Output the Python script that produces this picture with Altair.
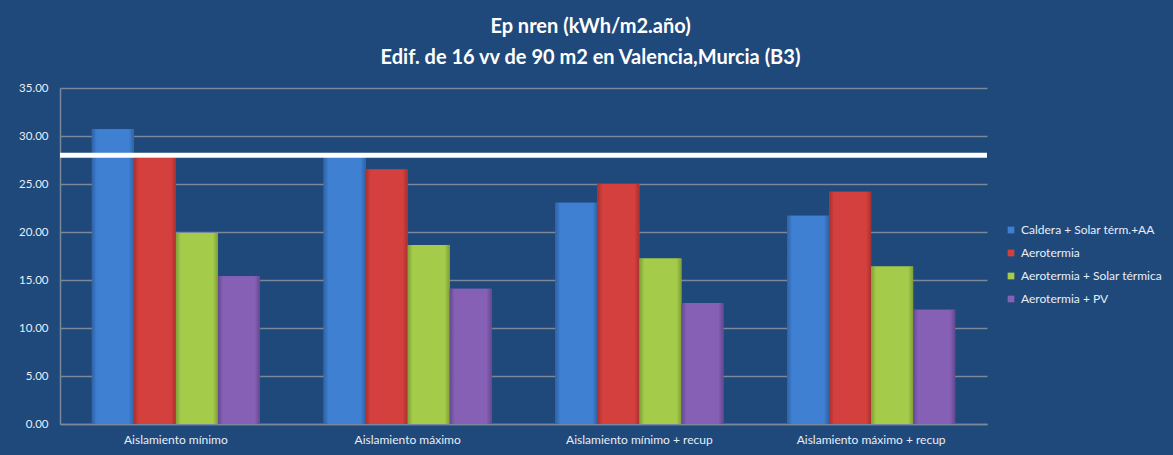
import altair as alt
import pandas as pd

categories = ["Aislamiento mínimo", "Aislamiento máximo", "Aislamiento mínimo + recup", "Aislamiento máximo + recup"]
series = ["Caldera + Solar térm.+AA", "Aerotermia", "Aerotermia + Solar térmica", "Aerotermia + PV"]
caldera = [30.7, 27.8, 23.05, 21.7]
aerotermia = [27.7, 26.5, 25.0, 24.2]
aero_solar = [19.9, 18.65, 17.25, 16.4]
aero_pv = [15.4, 14.1, 12.6, 11.9]
limit_value = 28.0
colors = ["#3f80d2", "#d4403d", "#a4cc4a", "#8560b4"]
edge_colors = ["#2f62a6", "#a8302e", "#7f9f36", "#654791"]

rows = []
for s, vals in zip(series, [caldera, aerotermia, aero_solar, aero_pv]):
    for c, v in zip(categories, vals):
        rows.append({"cat": c, "serie": s, "valor": v})
df = pd.DataFrame(rows)

bg = "#1f487b"
grid = "#7a8899"
txt = "#e8eef6"

x_enc = alt.X("cat:N", sort=categories, title=None,
              scale=alt.Scale(paddingInner=0.275, paddingOuter=0.1375),
              axis=alt.Axis(labelAngle=0, labelColor=txt, labelFontSize=12, labelFont="Lato",
                            labelPadding=10, ticks=False, domainColor=grid, domainWidth=1.5))
xo_enc = alt.XOffset("serie:N", sort=series, scale=alt.Scale(domain=series))
y_enc = alt.Y("valor:Q", title=None,
              scale=alt.Scale(domain=[0, 35], nice=False),
              axis=alt.Axis(values=[0, 5, 10, 15, 20, 25, 30, 35], format=".2f", labelColor=txt,
                            labelFontSize=11.5, labelFont="Lato", labelPadding=12, ticks=False,
                            domainColor=grid, domainWidth=1.5, gridColor=grid, gridWidth=1.5))

base = alt.Chart(df).mark_bar().encode(
    x=x_enc, xOffset=xo_enc, y=y_enc,
    color=alt.Color("serie:N", sort=series, scale=alt.Scale(domain=series, range=colors),
                    legend=alt.Legend(title=None, orient="none", legendX=945, legendY=136,
                                      symbolType="square", symbolSize=45, labelColor=txt,
                                      labelFontSize=12, labelFont="Lato", rowPadding=11,
                                      symbolStrokeWidth=0)),
)

layers = [base]
for s, c, e in zip(series, colors, edge_colors):
    grad = {"gradient": "linear", "x1": 0, "x2": 1, "y1": 0, "y2": 0,
            "stops": [{"offset": 0, "color": e}, {"offset": 0.12, "color": c},
                      {"offset": 0.88, "color": c}, {"offset": 1, "color": e}]}
    layers.append(
        alt.Chart(df).transform_filter(alt.datum.serie == s).mark_bar(fill=grad).encode(
            x=x_enc, xOffset=xo_enc, y=y_enc)
    )

rule = alt.Chart(pd.DataFrame({"limite": [limit_value]})).mark_rule(color="white", size=5).encode(
    y="limite:Q"
)
layers.append(rule)

chart = alt.layer(*layers).properties(
    width=927, height=336,
    title=alt.Title(["Ep nren (kWh/m2.año)", "Edif. de 16 vv de 90 m2 en Valencia,Murcia (B3)"],
                    color="white", fontSize=20, font="Lato", fontWeight="bold",
                    lineHeight=31, offset=14, anchor="middle", dx=67),
    autosize=alt.AutoSizeParams(type="none"),
    padding={"left": 60, "top": 88, "right": 186, "bottom": 31},
    background=bg,
).configure_view(stroke=None)

chart.save("out.html", embed_options={"renderer": "svg", "actions": False})
